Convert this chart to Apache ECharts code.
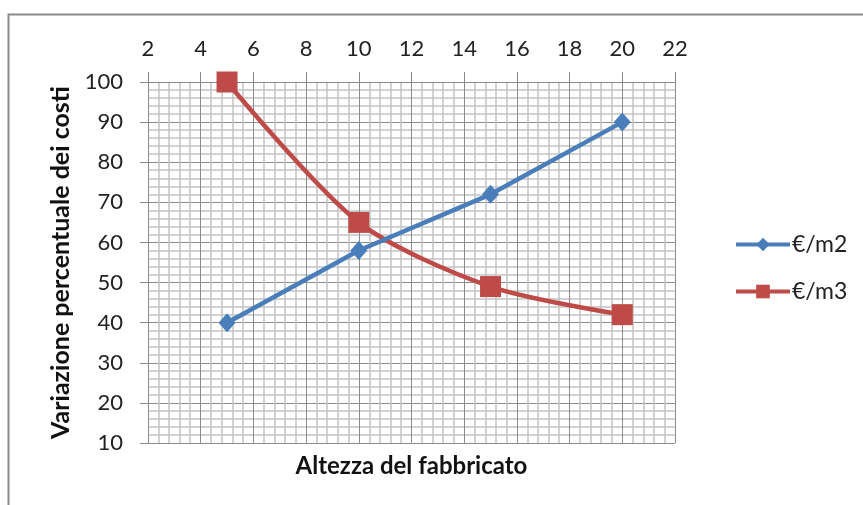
<!DOCTYPE html>
<html>
<head>
<meta charset="utf-8">
<script src="https://cdn.jsdelivr.net/npm/echarts@6/dist/echarts.min.js"></script>
<style>
  html, body { margin: 0; padding: 0; background: #fff; }
  #chart { width: 863px; height: 505px; }
</style>
</head>
<body>
<div id="chart"></div>
<script>
// Building height (x) against percentage cost variation (y)
var heights = [5, 10, 15, 20];
var costPerM2 = [40, 58, 72, 90];
var costPerM3 = [100, 65, 49, 42];
var seriesNames = ['€/m2', '€/m3'];
var xAxisTitle = 'Altezza del fabbricato';
var yAxisTitle = 'Variazione percentuale dei costi';

function pairs(xs, ys) {
  return xs.map(function (x, i) { return [x, ys[i]]; });
}

var FONT = 'Lato, "Open Sans", sans-serif';
var GRID = { left: 148, top: 82, right: 188, bottom: 62 };
var chart = echarts.init(document.getElementById('chart'), null, { renderer: 'canvas' });

chart.setOption({
  backgroundColor: '#fff',
  animation: false,
  graphic: [{
    // chart frame
    type: 'rect',
    shape: { x: 8.5, y: 14.5, width: 900, height: 600 },
    style: { fill: 'none', stroke: '#8a8a8a', lineWidth: 2 },
    silent: true
  }, {
    // x axis title sits under the plot while the axis labels are on top
    type: 'text',
    x: (GRID.left + (863 - GRID.right)) / 2,
    y: 466,
    style: {
      text: xAxisTitle,
      fontFamily: FONT, fontSize: 24, fontWeight: 'bold', fill: '#111',
      textAlign: 'center', textVerticalAlign: 'middle'
    },
    silent: true
  }],
  grid: GRID,
  legend: {
    orient: 'vertical',
    left: 729,
    top: 228,
    itemWidth: 54,
    itemHeight: 17,
    itemGap: 24,
    lineStyle: { width: 4 },
    textStyle: { fontFamily: FONT, fontSize: 23, color: '#222', padding: [0, 0, 0, -3] },
    data: seriesNames
  },
  xAxis: {
    type: 'value',
    position: 'top',
    min: 2, max: 22, interval: 2,
    axisLine: { show: true, lineStyle: { color: '#8a8a8a', width: 1 } },
    axisTick: { show: true, inside: false, length: 10, lineStyle: { color: '#8a8a8a' } },
    axisLabel: { fontFamily: FONT, fontSize: 22, color: '#222', margin: 22 },
    splitLine: { show: true, lineStyle: { color: '#8c8c8c', width: 1 } },
    minorTick: { show: false, splitNumber: 5 },
    minorSplitLine: { show: true, lineStyle: { color: '#c4c4c4', width: 1.5 } }
  },
  yAxis: {
    type: 'value',
    min: 10, max: 100, interval: 10,
    name: yAxisTitle,
    nameLocation: 'middle',
    nameGap: 75,
    nameRotate: 90,
    nameTextStyle: { fontFamily: FONT, fontSize: 25, fontWeight: 'bold', color: '#111' },
    axisLine: { show: true, lineStyle: { color: '#8a8a8a', width: 1 } },
    axisTick: { show: true, inside: false, length: 8, lineStyle: { color: '#8a8a8a' } },
    axisLabel: { fontFamily: FONT, fontSize: 22, color: '#222', margin: 25 },
    splitLine: { show: true, lineStyle: { color: '#8c8c8c', width: 1 } },
    minorTick: { show: false, splitNumber: 5 },
    minorSplitLine: { show: true, lineStyle: { color: '#c4c4c4', width: 1.5 } }
  },
  series: [{
    name: seriesNames[0],
    type: 'line',
    data: pairs(heights, costPerM2),
    symbol: 'diamond',
    symbolSize: [17, 19],
    lineStyle: { color: '#4a7ebb', width: 4.5 },
    itemStyle: { color: '#4a7ebb' },
    z: 3
  }, {
    name: seriesNames[1],
    type: 'line',
    data: pairs(heights, costPerM3),
    smooth: 0.28,
    symbol: 'rect',
    symbolSize: 21,
    lineStyle: { color: '#be4b48', width: 4.5 },
    itemStyle: { color: '#be4b48' },
    z: 2
  }]
});
</script>
</body>
</html>
